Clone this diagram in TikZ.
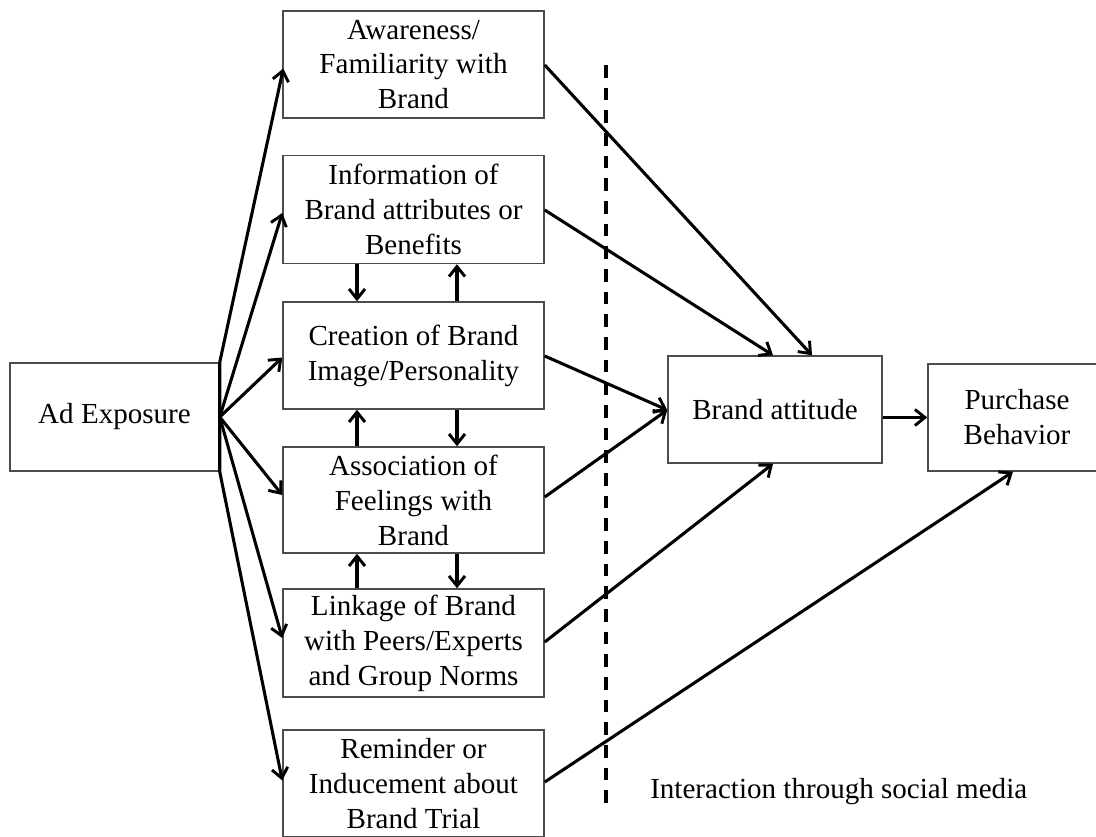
\documentclass[tikz,border=0pt]{standalone}
\usepackage{fontspec}
\setmainfont{Liberation Serif}
\usetikzlibrary{arrows.meta,calc}

\begin{document}
\begin{tikzpicture}[x=0.75pt,y=-0.75pt,
  box/.style={draw=black!70,line width=1.1pt,fill=white,align=center,
    inner sep=0pt,font=\fontsize{21.8}{26.2}\selectfont},
  conn/.style={line width=2.3pt,-{Straight Barb[length=7.5pt,width=12pt,line width=2.2pt]}},
  sep/.style={line width=2.5pt,dash pattern=on 9.5pt off 7.5pt}
]
\useasboundingbox (0,0) rectangle (1096,836);
\clip (0,0) rectangle (1096,836);

% left source
\node[box,minimum width=156.75pt,minimum height=81pt] (ad) at (114.5,417) {Ad Exposure};

% middle column of effects
\node[box,minimum width=195.75pt,minimum height=80.25pt] (b1) at (413.5,64.5)
  {Awareness/\\Familiarity with\\Brand};
\node[box,minimum width=195.75pt,minimum height=81pt] (b2) at (413.5,209.5)
  {Information of\\Brand attributes or\\Benefits};
\node[box,minimum width=195.75pt,minimum height=80.25pt] (b3) at (413.5,355.5)
  {Creation of Brand\\Image/Personality};
\node[box,minimum width=195.75pt,minimum height=79.5pt] (b4) at (413.5,500)
  {Association of\\Feelings with\\Brand};
\node[box,minimum width=195.75pt,minimum height=81pt] (b5) at (413.5,643)
  {Linkage of Brand\\with Peers/Experts\\and Group Norms};
\node[box,minimum width=195.75pt,minimum height=80.25pt] (b6) at (413.5,783.5)
  {Reminder or\\Inducement about\\Brand Trial};

% outcomes
\node[box,minimum width=160.5pt,minimum height=80.25pt] (ba) at (775,409.5) {Brand attitude};
\node[box,minimum width=133.5pt,minimum height=80.25pt] (pb) at (1017,417.5) {Purchase\\Behavior};

% social-media boundary
\coordinate (sepTop) at (606,65);
\coordinate (sepBot) at (606,807);
\draw[sep] (sepTop) -- (sepBot);
\node[anchor=base west,inner sep=0pt,font=\fontsize{21.8}{26.2}\selectfont] (social) at (650,798)
  {Interaction through social media};

% fan-out from ad exposure
\draw[conn] (ad.east) -- (ad.north east) -- ($(b1.west)+(1,4)$);
\draw[conn] (ad.east) -- ($(b2.west)+(0,3.5)$);
\draw[conn] (ad.east) -- ($(b3.west)+(0,2)$);
\draw[conn] (ad.east) -- ($(b4.west)+(0,-5)$);
\draw[conn] (ad.east) -- ($(b5.west)+(0,-5)$);
\draw[conn] (ad.east) -- (ad.south east) -- ($(b6.west)+(0,-3)$);

% two-way links between neighbouring effects
\draw[conn] (b2.south -| 357,0) -- (b3.north -| 357,0);
\draw[conn] (b3.north -| 457,0) -- (b2.south -| 457,0);
\draw[conn] (b4.north -| 357,0) -- (b3.south -| 357,0);
\draw[conn] (b3.south -| 457,0) -- (b4.north -| 457,0);
\draw[conn] (b5.north -| 357,0) -- (b4.south -| 357,0);
\draw[conn] (b4.south -| 457,0) -- (b5.north -| 457,0);

% effects to outcomes
\draw[conn] ($(b1.east)+(0,0.5)$) -- ($(ba.north)+(37,0)$);
\draw[conn] ($(b2.east)+(0,0.5)$) -- ($(ba.north)+(-2,0)$);
\draw[conn] ($(b3.east)+(0,0.5)$) -- ($(ba.west)+(0,0.5)$);
\draw[conn] ($(b4.east)+(0,-3)$) -- ($(ba.west)+(0,0.5)$);
\draw[conn] ($(b5.east)+(0,-1)$) -- ($(ba.south)+(-2,0)$);
\draw[conn] ($(b6.east)+(0,-1.5)$) -- ($(pb.south)+(-4,0)$);
\draw[conn] (ba.east |- pb.west) -- (pb.west);
\end{tikzpicture}
\end{document}
